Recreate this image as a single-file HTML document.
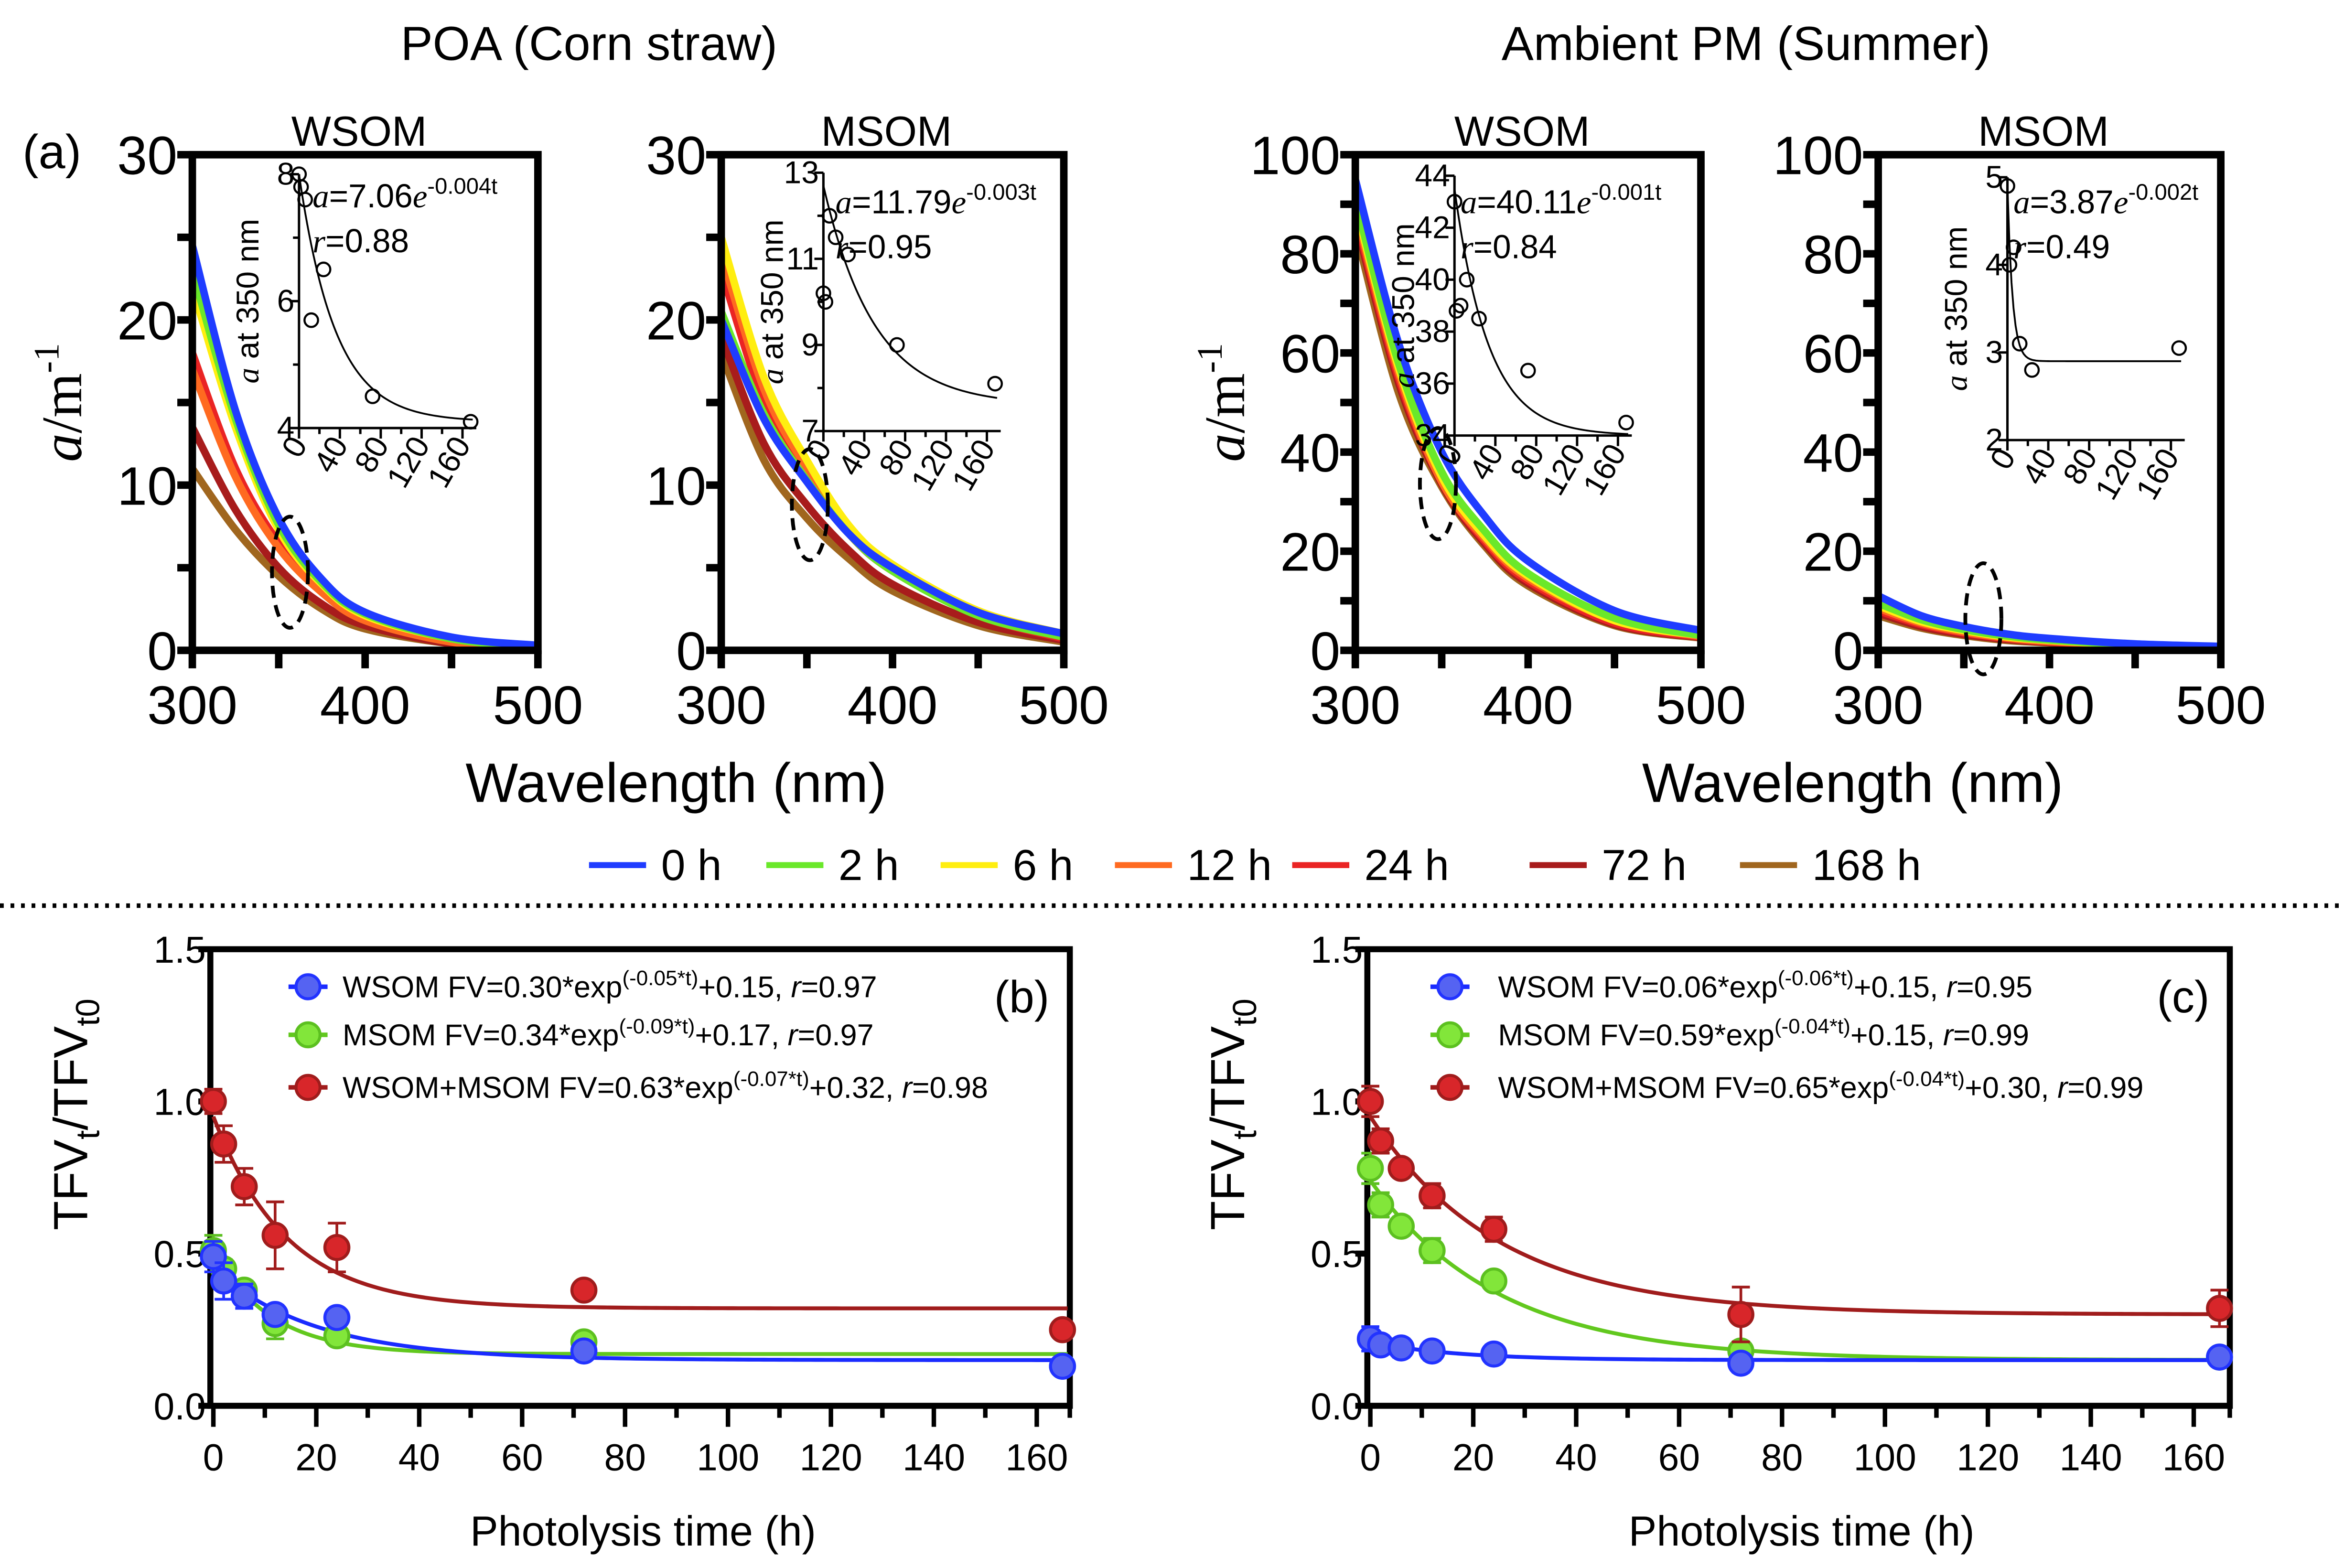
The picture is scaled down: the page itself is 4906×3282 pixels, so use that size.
<!DOCTYPE html>
<html><head><meta charset="utf-8"><style>
html,body{margin:0;padding:0;background:#fff;}
svg{display:block;}
text{font-family:"Liberation Sans",sans-serif;fill:#000;}
.serif{font-family:"Liberation Serif",serif;font-style:italic;}
</style></head><body>
<svg id="root" xmlns="http://www.w3.org/2000/svg" width="4906" height="3282" viewBox="0 0 1560 1044" preserveAspectRatio="none">
<rect width="1560" height="1044" fill="#fff"/>
<text x="392" y="40" font-size="32" text-anchor="middle">POA (Corn straw)</text>
<text x="1162" y="40" font-size="32" text-anchor="middle">Ambient PM (Summer)</text>
<text x="15" y="112" font-size="32">(a)</text>
<text x="450" y="534" font-size="37" text-anchor="middle">Wavelength (nm)</text>
<text x="1233" y="534" font-size="37" text-anchor="middle">Wavelength (nm)</text>
<line x1="0" y1="603" x2="1560" y2="603" stroke="#000" stroke-width="3" stroke-dasharray="2.5 4.5"/>
<g id="layer"></g>
</svg>
<script>
const wl = [300,325,350,375,400,450,500];
const seriesNames = ['0 h','2 h','6 h','12 h','24 h','72 h','168 h'];
const seriesColors = ['#1f3cff','#6ae82a','#ffee10','#ff6a20','#ea2424','#a81c1c','#a0661e'];
// panel a1 (POA WSOM)
const a1_0h=[24.5,14.5,8.0,4.3,2.3,0.8,0.3];
const a1_2h=[23,14,7.6,4.1,2.2,0.7,0.2];
const a1_6h=[22,13.5,7.3,4.0,2.1,0.7,0.2];
const a1_12h=[17,10.5,6.2,3.5,1.8,0.5,0.1];
const a1_24h=[18,11,6.5,3.6,1.9,0.6,0.1];
const a1_72h=[13.5,8.5,5.0,2.8,1.5,0.4,0.1];
const a1_168h=[11,7.3,4.5,2.5,1.3,0.4,0.1];
// panel a2 (POA MSOM)
const a2_0h=[20,14,10.2,7.0,5.0,2.3,1.0];
const a2_2h=[20.5,14.3,10.3,7.0,4.8,2.1,0.8];
const a2_6h=[25,16.5,11.5,7.5,5.2,2.4,1.0];
const a2_12h=[24,15.8,11,7.2,5.0,2.2,0.8];
const a2_24h=[23,15,10.5,7.0,4.8,2.1,0.7];
const a2_72h=[19,12.5,8.8,6.0,4.0,1.7,0.6];
const a2_168h=[18,11.5,8.0,5.5,3.6,1.5,0.5];
// panel a3 (Ambient WSOM)
const a3_0h=[95,62,40,27,18,8,4];
const a3_2h=[91,58,36,24,15.5,6.5,3];
const a3_6h=[90,57,35,23,15,6,3];
const a3_12h=[89,56,34,22.5,14.5,6,2.8];
const a3_24h=[88,55,34,22,14,5.5,2.7];
const a3_72h=[87,54,33.5,21.5,13.5,5.2,2.6];
const a3_168h=[85,52,33,21,13,5,2.5];
// panel a4 (Ambient MSOM)
const a4_0h=[11,7,4.8,3.3,2.4,1.3,0.8];
const a4_2h=[9.5,6.2,4.2,2.9,2.1,1.1,0.6];
const a4_6h=[9,5.8,4.0,2.7,2.0,1.0,0.5];
const a4_12h=[8.5,5.5,3.7,2.5,1.8,0.9,0.4];
const a4_24h=[8,5.2,3.5,2.4,1.7,0.8,0.4];
const a4_72h=[7.5,4.8,3.2,2.2,1.6,0.7,0.3];
const a4_168h=[7,4.5,3.0,2.0,1.5,0.7,0.3];
// insets
const insetT=[0,2,6,12,24,72,168];
const in1=[8.0,7.8,7.6,5.7,6.5,4.5,4.1];
const in2=[10.2,10.0,12.0,11.5,11.1,9.0,8.1];
const in3=[43.0,38.8,39.0,40.0,38.5,36.5,34.5];
const in4T=[0,2,6,12,24,168];
const in4=[4.9,4.0,4.2,3.1,2.8,3.05];
// panel b/c
const tHours=[0,2,6,12,24,72,165];
const bW=[0.49,0.41,0.36,0.30,0.29,0.18,0.13];
const bWerr=[0.05,0.06,0.04,0.03,0.01,0.01,0.01];
const bM=[0.51,0.45,0.38,0.27,0.23,0.21,0.13];
const bMerr=[0.05,0.03,0.03,0.05,0.02,0.01,0.01];
const bR=[1.0,0.86,0.72,0.56,0.52,0.38,0.25];
const bRerr=[0.04,0.06,0.06,0.11,0.08,0.01,0.01];
const cW=[0.22,0.20,0.19,0.18,0.17,0.14,0.16];
const cWerr=[0.04,0.03,0.03,0.03,0.03,0.03,0.01];
const cM=[0.78,0.66,0.59,0.51,0.41,0.18,0.16];
const cMerr=[0.05,0.04,0.03,0.04,0.02,0.03,0.01];
const cR=[1.0,0.87,0.78,0.69,0.58,0.30,0.32];
const cRerr=[0.05,0.04,0.02,0.04,0.04,0.09,0.06];

const NS='http://www.w3.org/2000/svg';
const layer=document.getElementById('layer');
function mk(tag,attrs,parent){const e=document.createElementNS(NS,tag);for(const k in attrs)e.setAttribute(k,attrs[k]);(parent||layer).appendChild(e);return e;}
function txt(x,y,s,size,extra,parent){const e=mk('text',Object.assign({x:x,y:y,'font-size':size},extra||{}),parent);e.textContent=s;return e;}
function smooth(pts){let d='M'+pts[0][0]+','+pts[0][1];for(let i=0;i<pts.length-1;i++){const p0=pts[i-1]||pts[i],p1=pts[i],p2=pts[i+1],p3=pts[i+2]||p2;const c1=[p1[0]+(p2[0]-p0[0])/6,p1[1]+(p2[1]-p0[1])/6],c2=[p2[0]-(p3[0]-p1[0])/6,p2[1]-(p3[1]-p1[1])/6];d+=' C'+c1+' '+c2+' '+p2;}return d;}

const aPanels=[
 {id:'poa-wsom',x0:128,x1:358,ymax:30,yt:[0,10,20,30],title:'WSOM',data:[a1_0h,a1_2h,a1_6h,a1_12h,a1_24h,a1_72h,a1_168h],ylab:true,
  ins:{x0:199,y0:116,y1:285,min:4,max:8,yt:[4,6,8],mn:[5,7],t:insetT,v:in1,fit:t=>4.1+3.9*Math.exp(-0.028*t),eq:'7.06',ex:'-0.004t',r:'0.88',ex0:208,ey0:138},ell:[193,381]},
 {id:'poa-msom',x0:480,x1:708,ymax:30,yt:[0,10,20,30],title:'MSOM',data:[a2_0h,a2_2h,a2_6h,a2_12h,a2_24h,a2_72h,a2_168h],ylab:false,
  ins:{x0:548,y0:115,y1:287,min:7,max:13,yt:[7,9,11,13],mn:[8,10,12],t:insetT,v:in2,fit:t=>7.6+5.1*Math.exp(-0.02*t),eq:'11.79',ex:'-0.003t',r:'0.95',ex0:556,ey0:142},ell:[539,336]},
 {id:'amb-wsom',x0:902,x1:1132,ymax:100,yt:[0,20,40,60,80,100],title:'WSOM',data:[a3_0h,a3_2h,a3_6h,a3_12h,a3_24h,a3_72h,a3_168h],ylab:true,
  ins:{x0:968,y0:117,y1:290,min:34,max:44,yt:[34,36,38,40,42,44],mn:[],t:insetT,v:in3,fit:t=>34+9.5*Math.exp(-0.03*t),eq:'40.11',ex:'-0.001t',r:'0.84',ex0:972,ey0:142},ell:[957,322]},
 {id:'amb-msom',x0:1250,x1:1478,ymax:100,yt:[0,20,40,60,80,100],title:'MSOM',data:[a4_0h,a4_2h,a4_6h,a4_12h,a4_24h,a4_72h,a4_168h],ylab:false,
  ins:{x0:1336,y0:118,y1:293,min:2,max:5,yt:[2,3,4,5],mn:[],t:in4T,v:in4,fit:t=>2.9+2*Math.exp(-0.2*t),eq:'3.87',ex:'-0.002t',r:'0.49',ex0:1340,ey0:142},ell:[1320,412]}
];
const Y0=433,Y1=103;
aPanels.forEach(P=>{
 const g=mk('g',{});
 
 
 const xs=v=>P.x0+(v-300)/200*(P.x1-P.x0);
 const ys=v=>Y0-v/P.ymax*(Y0-Y1);
 for(let s=P.data.length-1;s>=0;s--){
  const pts=wl.map((w,i)=>[xs(w),ys(P.data[s][i])]);
  const p=mk('path',{d:smooth(pts),fill:'none',stroke:seriesColors[s],'stroke-width':5},g);
  
  
 }
 const fr=mk('rect',{x:P.x0,y:Y1,width:P.x1-P.x0,height:Y0-Y1,fill:'none',stroke:'#000','stroke-width':5},g);
 
 
 const step=P.yt[1]-P.yt[0];
 for(let v=0;v<=P.ymax;v+=step/2){mk('line',{x1:P.x0-10,x2:P.x0,y1:ys(v),y2:ys(v),stroke:'#000','stroke-width':5},g);}
 P.yt.forEach(v=>{const t=txt(P.x0-10,ys(v)+13,String(v),36,{'text-anchor':'end'},g);});
 [300,350,400,450,500].forEach(v=>{mk('line',{x1:xs(v),x2:xs(v),y1:Y0,y2:Y0+12,stroke:'#000','stroke-width':5},g);});
 [300,400,500].forEach(v=>{const t=txt(xs(v),482,String(v),36,{'text-anchor':'middle'},g);});
 const tt=txt((P.x0+P.x1)/2-4,97,P.title,28,{'text-anchor':'middle'},g);
 
 
 if(P.ylab){
  const yl=txt(0,0,'',38,{transform:'translate('+(P.x0-74)+',268) rotate(-90)','text-anchor':'middle'},g);
  yl.innerHTML='<tspan class="serif">a</tspan><tspan style="font-family:\'Liberation Serif\',serif">/m</tspan><tspan dy="-15" font-size="24" style="font-family:\'Liberation Serif\',serif">-1</tspan>';
  
  
 }
 const el=mk('ellipse',{cx:P.ell[0],cy:P.ell[1],rx:12,ry:37,fill:'none',stroke:'#000','stroke-width':2.5,'stroke-dasharray':'8 5'},g);
 
 
 const I=P.ins;
 const ig=mk('g',{},g);
 
 
 const ix=t=>I.x0+t*0.68;
 const iy=v=>I.y1-(v-I.min)/(I.max-I.min)*(I.y1-I.y0);
 mk('line',{x1:I.x0,x2:I.x0,y1:I.y0,y2:I.y1,stroke:'#000','stroke-width':1.6},ig);
 mk('line',{x1:I.x0,x2:I.x0+118,y1:I.y1,y2:I.y1,stroke:'#000','stroke-width':1.6},ig);
 I.yt.forEach(v=>{mk('line',{x1:I.x0-6,x2:I.x0,y1:iy(v),y2:iy(v),stroke:'#000','stroke-width':1.6},ig);const t=txt(I.x0-3,iy(v)+7,String(v),21,{'text-anchor':'end'},ig);});
 I.mn.forEach(v=>{mk('line',{x1:I.x0-4,x2:I.x0,y1:iy(v),y2:iy(v),stroke:'#000','stroke-width':1.6},ig);});
 for(let t=0;t<=160;t+=20){mk('line',{x1:ix(t),x2:ix(t),y1:I.y1,y2:I.y1+(t%40?4:7),stroke:'#000','stroke-width':1.6},ig);}
 [0,40,80,120,160].forEach(t=>{const e=txt(0,0,String(t),21,{transform:'translate('+(ix(t)+6)+','+(I.y1+11)+') rotate(-60)','text-anchor':'end'},ig);});
 const fp=[];for(let t=0;t<=170;t+=2)fp.push((fp.length?'L':'M')+ix(t)+','+iy(I.fit(t)));
 const fc=mk('path',{d:fp.join(' '),fill:'none',stroke:'#000','stroke-width':1.2},ig);
 
 
 I.t.forEach((t,i)=>{const c=mk('circle',{cx:ix(t),cy:iy(I.v[i]),r:4.5,fill:'none',stroke:'#000','stroke-width':1.4},ig);});
 const yl=txt(0,0,'',21,{transform:'translate('+(I.x0-27)+','+((I.y0+I.y1)/2)+') rotate(-90)','text-anchor':'middle'},ig);
 yl.innerHTML='<tspan class="serif">a</tspan> at 350 nm';
 
 
 const eq=txt(I.ex0,I.ey0,'',22,{},ig);
 eq.innerHTML='<tspan class="serif">a</tspan>='+I.eq+'<tspan class="serif">e</tspan><tspan dy="-9" font-size="15">'+I.ex+'</tspan>';
 
 
 const rr=txt(I.ex0,I.ey0+30,'',22,{},ig);
 rr.innerHTML='<tspan class="serif">r</tspan>=' + I.r;
 
 
});

const legX=[392,510,626,742,860,1018,1158];
const lg=mk('g',{});


seriesNames.forEach((n,i)=>{
 const e=mk('g',{},lg);
 
 
 mk('line',{x1:legX[i],x2:legX[i]+38,y1:576,y2:576,stroke:seriesColors[i],'stroke-width':4},e);
 txt(legX[i]+48,586,n,29,{},e);
});

const bc=[
 {id:'b',x0:140,x1:712,xz:142,label:'(b)',lx:680,W:bW,We:bWerr,M:bM,Me:bMerr,R:bR,Re:bRerr,mx:205,tx:228,
  fits:[[0.30,0.05,0.15],[0.34,0.09,0.17],[0.63,0.07,0.32]],
  leg:['WSOM FV=0.30*exp<tspan dy="-8" font-size="14">(-0.05*t)</tspan><tspan dy="8">+0.15, </tspan><tspan font-style="italic">r</tspan>=0.97',
       'MSOM FV=0.34*exp<tspan dy="-8" font-size="14">(-0.09*t)</tspan><tspan dy="8">+0.17, </tspan><tspan font-style="italic">r</tspan>=0.97',
       'WSOM+MSOM FV=0.63*exp<tspan dy="-8" font-size="14">(-0.07*t)</tspan><tspan dy="8">+0.32, </tspan><tspan font-style="italic">r</tspan>=0.98']},
 {id:'c',x0:910,x1:1484,xz:912,label:'(c)',lx:1453,W:cW,We:cWerr,M:cM,Me:cMerr,R:cR,Re:cRerr,mx:965,tx:997,
  fits:[[0.06,0.06,0.15],[0.59,0.04,0.15],[0.65,0.04,0.30]],
  leg:['WSOM FV=0.06*exp<tspan dy="-8" font-size="14">(-0.06*t)</tspan><tspan dy="8">+0.15, </tspan><tspan font-style="italic">r</tspan>=0.95',
       'MSOM FV=0.59*exp<tspan dy="-8" font-size="14">(-0.04*t)</tspan><tspan dy="8">+0.15, </tspan><tspan font-style="italic">r</tspan>=0.99',
       'WSOM+MSOM FV=0.65*exp<tspan dy="-8" font-size="14">(-0.04*t)</tspan><tspan dy="8">+0.30, </tspan><tspan font-style="italic">r</tspan>=0.99']}
];
const BY0=936,BY1=632;
const lineCol=['#1a2bff','#62c81e','#a01c1c'],fillCol=['#5563f2','#82e63a','#d8262a'],strCol=['#2233ff','#5cc020','#a01c1c'];
bc.forEach(P=>{
 const g=mk('g',{});
 
 
 const xs=t=>P.xz+t*(548/160);
 const ys=v=>BY0-v/1.5*(BY0-BY1);
 const fr=mk('rect',{x:P.x0,y:BY1,width:P.x1-P.x0,height:BY0-BY1,fill:'none',stroke:'#000','stroke-width':4},g);
 
 
 [0,0.5,1.0,1.5].forEach(v=>{mk('line',{x1:P.x0-8,x2:P.x0,y1:ys(v),y2:ys(v),stroke:'#000','stroke-width':4},g);const t=txt(P.x0-3,ys(v)+9,v.toFixed(1),25,{'text-anchor':'end'},g);});
 for(let t=0;t<=160;t+=10){mk('line',{x1:xs(t),x2:xs(t),y1:BY0,y2:BY0+(t%20?8:14),stroke:'#000','stroke-width':3},g);}
 mk('line',{x1:P.x1,x2:P.x1,y1:BY0,y2:BY0+8,stroke:'#000','stroke-width':3},g);
 for(let t=0;t<=160;t+=20){const e=txt(xs(t),979,String(t),25,{'text-anchor':'middle'},g);}
 const xt=txt((P.x0+P.x1)/2+2,1029,'Photolysis time (h)',28,{'text-anchor':'middle'},g);
 
 
 const yt=txt(0,0,'',32,{transform:'translate('+(P.x0-82)+',742) rotate(-90)','text-anchor':'middle'},g);
 yt.innerHTML='TFV<tspan dy="8" font-size="22">t</tspan><tspan dy="-8">/TFV</tspan><tspan dy="8" font-size="22">t0</tspan>';
 
 
 const pl=txt(P.lx,674,P.label,30,{'text-anchor':'middle'},g);
 
 
 const sets=[[P.W,P.We],[P.M,P.Me],[P.R,P.Re]];
 const names=['wsom','msom','wsom-msom'];
 [1,0,2].forEach(s=>{
  const f=P.fits[s];const d=[];for(let t=0;t<=166;t+=1)d.push((d.length?'L':'M')+xs(t)+','+ys(f[0]*Math.exp(-f[1]*t)+f[2]));
  const c=mk('path',{d:d.join(' '),fill:'none',stroke:lineCol[s],'stroke-width':2.6},g);
  
  
 });
 [1,2,0].forEach(s=>{
  const [v,e]=sets[s];
  tHours.forEach((t,i)=>{
   const x=xs(t);
   if(e[i]>0.015){mk('path',{d:'M'+x+','+ys(v[i]-e[i])+' L'+x+','+ys(v[i]+e[i])+' M'+(x-6)+','+ys(v[i]+e[i])+' L'+(x+6)+','+ys(v[i]+e[i])+' M'+(x-6)+','+ys(v[i]-e[i])+' L'+(x+6)+','+ys(v[i]-e[i]),stroke:strCol[s],'stroke-width':1.8,fill:'none'},g);}
   const c=mk('circle',{cx:x,cy:ys(v[i]),r:8,fill:fillCol[s],stroke:strCol[s],'stroke-width':2},g);
   
   
  });
 });
 [657,689,724].forEach((y,i)=>{
  const e=mk('g',{},g);
  
  
  mk('line',{x1:P.mx-13,x2:P.mx+13,y1:y,y2:y,stroke:lineCol[i],'stroke-width':3},e);
  mk('circle',{cx:P.mx,cy:y,r:8,fill:fillCol[i],stroke:strCol[i],'stroke-width':2},e);
  const t=txt(P.tx,y+7,'',20,{},e);t.innerHTML=P.leg[i];
 });
});
</script>
</body></html>
